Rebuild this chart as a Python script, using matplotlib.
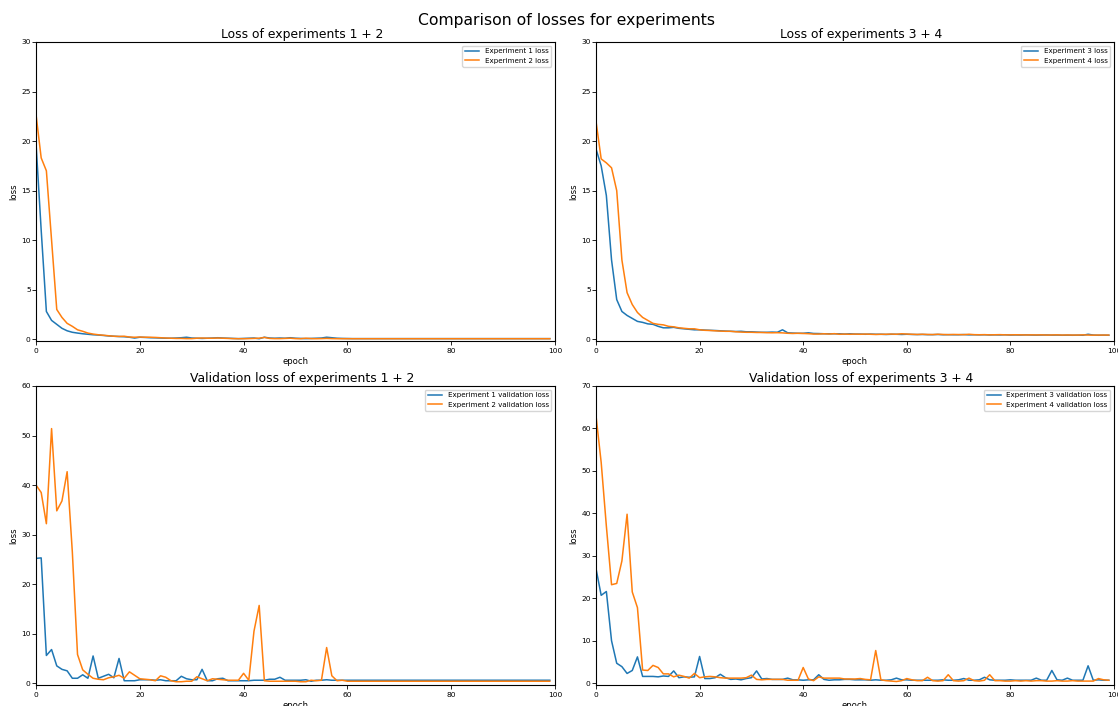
import matplotlib
matplotlib.use("Agg")
import matplotlib.pyplot as plt
import numpy as np

epochs = list(range(100))

exp1_loss = [19.8, 11.0, 2.8, 1.9, 1.5, 1.1, 0.85, 0.7, 0.62, 0.55,
             0.5, 0.45, 0.42, 0.38, 0.33, 0.3, 0.27, 0.25, 0.2, 0.12,
             0.2, 0.18, 0.15, 0.14, 0.12, 0.1, 0.1, 0.12, 0.15, 0.2,
             0.12, 0.1, 0.08, 0.1, 0.12, 0.15, 0.12, 0.1, 0.08, 0.06,
             0.08, 0.1, 0.12, 0.05, 0.2, 0.12, 0.1, 0.12, 0.1, 0.15,
             0.1, 0.08, 0.06, 0.08, 0.1, 0.12, 0.2, 0.15, 0.1, 0.08,
             0.07, 0.06, 0.06, 0.06, 0.06, 0.06, 0.06, 0.06, 0.06, 0.06,
             0.06, 0.06, 0.06, 0.06, 0.06, 0.06, 0.06, 0.06, 0.06, 0.06,
             0.06, 0.06, 0.06, 0.06, 0.06, 0.06, 0.06, 0.06, 0.06, 0.06,
             0.06, 0.06, 0.06, 0.06, 0.06, 0.06, 0.06, 0.06, 0.06, 0.06]
exp2_loss = [22.7, 18.3, 17.0, 10.0, 3.0, 2.2, 1.6, 1.3, 0.95, 0.8,
             0.62, 0.52, 0.45, 0.4, 0.35, 0.3, 0.28, 0.3, 0.22, 0.2,
             0.22, 0.2, 0.2, 0.18, 0.15, 0.12, 0.1, 0.08, 0.08, 0.06,
             0.06, 0.1, 0.12, 0.1, 0.1, 0.12, 0.1, 0.08, 0.06, 0.05,
             0.05, 0.06, 0.08, 0.1, 0.18, 0.08, 0.06, 0.06, 0.08, 0.1,
             0.06, 0.05, 0.1, 0.06, 0.05, 0.06, 0.08, 0.06, 0.05, 0.05,
             0.05, 0.05, 0.05, 0.05, 0.05, 0.05, 0.05, 0.05, 0.05, 0.05,
             0.05, 0.05, 0.05, 0.05, 0.05, 0.05, 0.05, 0.05, 0.05, 0.05,
             0.05, 0.05, 0.05, 0.05, 0.05, 0.05, 0.05, 0.05, 0.05, 0.05,
             0.05, 0.05, 0.05, 0.05, 0.05, 0.05, 0.05, 0.05, 0.05, 0.05]
exp3_loss = [19.2, 17.5, 14.5, 8.0, 4.0, 2.8, 2.4, 2.1, 1.8, 1.7,
             1.55, 1.5, 1.3, 1.15, 1.15, 1.2, 1.1, 1.05, 1.0, 0.95,
             0.95, 0.92, 0.9, 0.88, 0.85, 0.82, 0.8, 0.78, 0.8, 0.75,
             0.75, 0.72, 0.7, 0.7, 0.72, 0.7, 0.95, 0.65, 0.62, 0.6,
             0.6, 0.65, 0.58, 0.57, 0.55, 0.55, 0.55, 0.55, 0.52, 0.55,
             0.52, 0.52, 0.5, 0.52, 0.5, 0.5, 0.48, 0.5, 0.5, 0.48,
             0.5, 0.48, 0.47, 0.48, 0.46, 0.46, 0.48, 0.45, 0.46, 0.45,
             0.45, 0.47, 0.44, 0.45, 0.44, 0.45, 0.43, 0.44, 0.43, 0.45,
             0.42, 0.43, 0.42, 0.44, 0.42, 0.41, 0.42, 0.43, 0.41, 0.42,
             0.4, 0.41, 0.4, 0.41, 0.4, 0.5, 0.42, 0.4, 0.41, 0.4]
exp4_loss = [22.0, 18.2, 17.8, 17.3, 15.0, 8.0, 4.7, 3.5, 2.7, 2.2,
             1.9, 1.6, 1.5, 1.45, 1.3, 1.25, 1.15, 1.1, 1.05, 1.05,
             0.95, 0.9, 0.88, 0.85, 0.82, 0.8, 0.8, 0.75, 0.72, 0.7,
             0.7, 0.68, 0.68, 0.66, 0.65, 0.66, 0.64, 0.6, 0.58, 0.6,
             0.58, 0.56, 0.52, 0.52, 0.55, 0.52, 0.56, 0.5, 0.52, 0.5,
             0.52, 0.5, 0.52, 0.5, 0.48, 0.5, 0.5, 0.52, 0.5, 0.55,
             0.52, 0.5, 0.48, 0.5, 0.48, 0.47, 0.5, 0.48, 0.46, 0.48,
             0.47, 0.46, 0.5, 0.46, 0.45, 0.46, 0.44, 0.45, 0.46, 0.44,
             0.44, 0.45, 0.44, 0.43, 0.44, 0.43, 0.44, 0.42, 0.43, 0.44,
             0.42, 0.43, 0.42, 0.42, 0.44, 0.42, 0.41, 0.42, 0.42, 0.42]

exp1_val = [25.2, 25.3, 5.6, 6.8, 3.5, 2.8, 2.5, 1.0, 1.0, 1.7,
            1.0, 5.5, 1.0, 1.4, 1.8, 1.1, 5.0, 0.5, 0.5, 0.5,
            0.7, 0.7, 0.7, 0.6, 0.7, 0.5, 0.5, 0.5, 1.4, 0.9,
            0.7, 0.7, 2.8, 0.5, 0.5, 0.9, 1.0, 0.5, 0.5, 0.5,
            0.5, 0.5, 0.6, 0.6, 0.6, 0.8, 0.8, 1.2, 0.6, 0.6,
            0.6, 0.6, 0.7, 0.4, 0.6, 0.6, 0.7, 0.6, 0.6, 0.6,
            0.6, 0.6, 0.6, 0.6, 0.6, 0.6, 0.6, 0.6, 0.6, 0.6,
            0.6, 0.6, 0.6, 0.6, 0.6, 0.6, 0.6, 0.6, 0.6, 0.6,
            0.6, 0.6, 0.6, 0.6, 0.6, 0.6, 0.6, 0.6, 0.6, 0.6,
            0.6, 0.6, 0.6, 0.6, 0.6, 0.6, 0.6, 0.6, 0.6, 0.6]
exp2_val = [40.0, 38.5, 32.2, 51.4, 34.8, 36.8, 42.7, 26.5, 5.8, 2.7,
            1.8, 1.0, 0.8, 0.7, 1.1, 1.3, 1.6, 1.0, 2.3, 1.6,
            0.9, 0.8, 0.7, 0.5, 1.5, 1.2, 0.5, 0.3, 0.3, 0.4,
            0.4, 1.3, 0.9, 0.5, 0.9, 0.8, 0.7, 0.6, 0.6, 0.6,
            2.0, 0.6, 10.5, 15.7, 0.5, 0.4, 0.4, 0.4, 0.4, 0.4,
            0.4, 0.3, 0.3, 0.6, 0.5, 0.6, 7.2, 1.5, 0.5, 0.6,
            0.4, 0.4, 0.4, 0.4, 0.4, 0.4, 0.4, 0.4, 0.4, 0.4,
            0.4, 0.4, 0.4, 0.4, 0.4, 0.4, 0.4, 0.4, 0.4, 0.4,
            0.4, 0.4, 0.4, 0.4, 0.4, 0.4, 0.4, 0.4, 0.4, 0.4,
            0.4, 0.4, 0.4, 0.4, 0.4, 0.4, 0.4, 0.4, 0.4, 0.4]
exp3_val = [27.0, 20.7, 21.6, 10.0, 4.7, 3.9, 2.3, 3.0, 6.2, 1.6,
            1.6, 1.6, 1.5, 1.7, 1.6, 2.9, 1.3, 1.5, 1.4, 1.5,
            6.3, 1.1, 1.1, 1.3, 2.1, 1.3, 0.9, 1.0, 0.8, 1.1,
            1.3, 2.9, 1.0, 1.1, 0.9, 0.9, 0.9, 1.2, 0.8, 0.8,
            0.7, 0.8, 0.8, 2.0, 0.9, 0.7, 0.8, 0.8, 0.9, 0.9,
            0.8, 0.8, 0.8, 0.7, 0.8, 0.7, 0.7, 0.8, 1.2, 0.8,
            0.8, 0.7, 0.7, 0.7, 0.7, 0.7, 0.7, 0.8, 0.7, 0.7,
            0.8, 1.1, 0.7, 0.7, 0.8, 1.4, 0.8, 0.7, 0.7, 0.7,
            0.8, 0.7, 0.7, 0.7, 0.7, 1.2, 0.7, 0.7, 3.0, 0.8,
            0.7, 1.2, 0.7, 0.7, 0.7, 4.1, 0.7, 0.8, 0.7, 0.7]
exp4_val = [63.0, 52.0, 37.0, 23.2, 23.5, 28.8, 39.8, 21.5, 17.8, 3.1,
            3.0, 4.2, 3.7, 2.2, 2.2, 1.5, 1.9, 1.6, 1.2, 2.3,
            1.3, 1.5, 1.6, 1.5, 1.3, 1.2, 1.2, 1.2, 1.2, 1.3,
            1.9, 0.9, 0.8, 0.9, 0.9, 0.9, 0.9, 0.7, 0.7, 0.7,
            3.7, 1.0, 0.6, 1.5, 1.2, 1.2, 1.2, 1.2, 1.0, 1.0,
            1.0, 1.1, 0.9, 0.8, 7.7, 0.8, 0.6, 0.5, 0.4, 0.6,
            1.1, 0.8, 0.6, 0.6, 1.4, 0.6, 0.5, 0.6, 2.0, 0.6,
            0.5, 0.6, 1.2, 0.6, 0.5, 0.7, 2.0, 0.6, 0.6, 0.5,
            0.5, 0.6, 0.5, 0.6, 0.5, 0.6, 0.6, 0.5, 0.5, 0.6,
            0.5, 0.5, 0.6, 0.5, 0.5, 0.5, 0.5, 1.1, 0.8, 0.7]

suptitle = "Comparison of losses for experiments"
titles = ["Loss of experiments 1 + 2", "Loss of experiments 3 + 4",
          "Validation loss of experiments 1 + 2", "Validation loss of experiments 3 + 4"]
series = [(exp1_loss, exp2_loss, "Experiment 1 loss", "Experiment 2 loss"),
          (exp3_loss, exp4_loss, "Experiment 3 loss", "Experiment 4 loss"),
          (exp1_val, exp2_val, "Experiment 1 validation loss", "Experiment 2 validation loss"),
          (exp3_val, exp4_val, "Experiment 3 validation loss", "Experiment 4 validation loss")]
ytops = [30, 30, 60, 70]

plt.rcParams.update({
    "font.size": 6,
    "axes.linewidth": 0.8,
    "xtick.major.width": 0.6,
    "ytick.major.width": 0.6,
    "xtick.major.size": 2.6,
    "ytick.major.size": 2.6,
    "xtick.major.pad": 2.4,
    "ytick.major.pad": 1.2,
    "xtick.labelsize": 5.4,
    "ytick.labelsize": 5.4,
    "lines.linewidth": 1.1,
})

W, H = 1118, 706
fig = plt.figure(figsize=(W / 100, H / 100), dpi=100)
boxes = [(36, 42, 555, 341), (596, 42, 1114, 341), (36, 386, 555, 685), (596, 386, 1114, 685)]

for (x0, y0, x1, y1), title, (a, b, la, lb), ytop in zip(boxes, titles, series, ytops):
    ax = fig.add_axes([x0 / W, 1 - y1 / H, (x1 - x0) / W, (y1 - y0) / H])
    ax.plot(epochs, a, color="C0", label=la)
    ax.plot(epochs, b, color="C1", label=lb)
    ax.set_xlim(0, 100)
    ax.set_ylim(-ytop * 0.006, ytop)
    ax.set_title(title, fontsize=8.9, pad=3.0, x=0.5 + 6.5 / (x1 - x0))
    ax.set_xlabel("epoch", fontsize=6.1, labelpad=2.5)
    ax.set_ylabel("loss", fontsize=6.1, labelpad=1.8)
    ax.legend(loc="upper right", fontsize=5.1)

fig.text(566 / W, 1 - 20 / H, suptitle, ha="center", va="center", fontsize=11.25)

fig.savefig("out.png", dpi=100)
